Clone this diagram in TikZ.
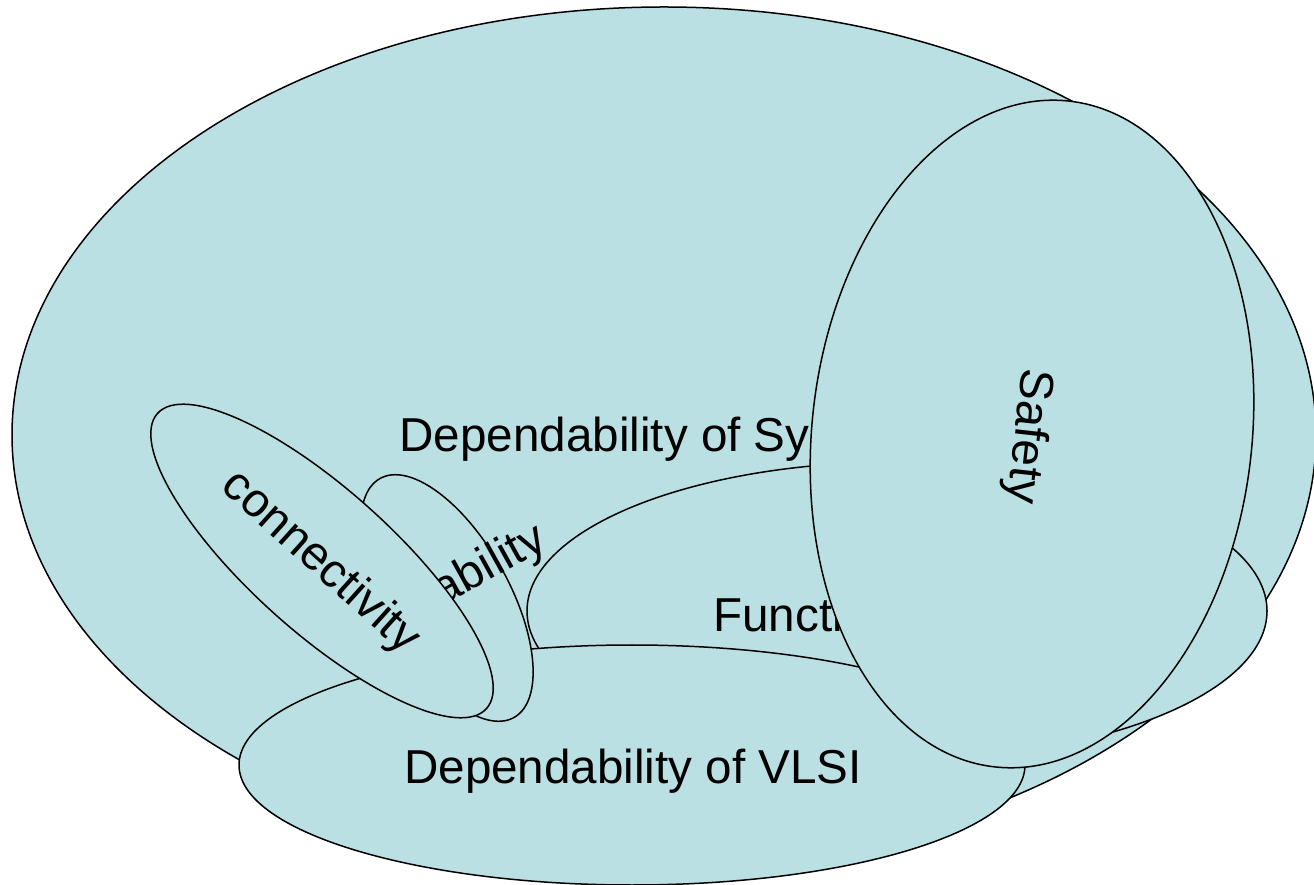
\documentclass[tikz,border=0pt]{standalone}
\usepackage{fontspec}
\setmainfont{Liberation Sans}
\usetikzlibrary{shapes.geometric}
\definecolor{blobfill}{RGB}{186,224,227}
\begin{document}
\begin{tikzpicture}[x=1pt,y=1pt,
  blob/.style={ellipse, draw=black, line width=1.5pt, fill=blobfill, inner sep=0pt, outer sep=0pt},
  lbl/.style={font=\fontsize{47.6pt}{57pt}\selectfont, inner sep=0pt}]
\useasboundingbox (0,0) rectangle (1314,884);
\clip (0,0) rectangle (1314,884);
\node[blob, minimum width=1304pt, minimum height=856pt] (sys) at (664,449) {};
\node[lbl, anchor=base] (systxt) at (668,432) {Dependability of Systems};
\node[blob, minimum width=740pt, minimum height=298pt] (func) at (897,273) {};
\node[lbl, anchor=base west] (functxt) at (713,252) {Functionality};
\node[blob, minimum width=786pt, minimum height=240pt] (vlsi) at (632,119) {};
\node[lbl, anchor=base west] (vlsitxt) at (404,101) {Dependability of VLSI};
\node[blob, minimum width=274pt, minimum height=124pt, rotate=-60.7] (rel) at (447,286) {};
\node[lbl, anchor=base, rotate=29] (reltxt) at (460,287) {Reliability};
\node[blob, minimum width=442pt, minimum height=142pt, rotate=-41.9] (conn) at (322,323) {};
\node[lbl, anchor=base, rotate=-42] (conntxt) at (312,312) {connectivity};
\node[blob, minimum width=440pt, minimum height=670pt, rotate=-6.4] (safe) at (1032,450) {};
\node[lbl, anchor=base, rotate=-96.4] (safetxt) at (1015,449) {Safety};
\end{tikzpicture}
\end{document}
